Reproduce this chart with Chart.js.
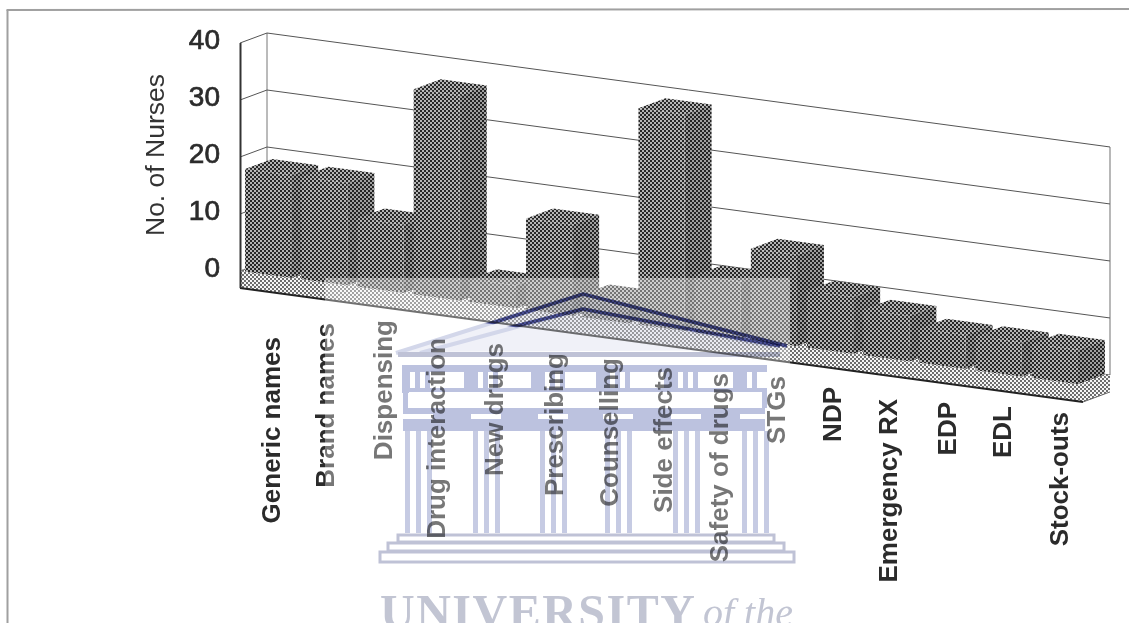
<!DOCTYPE html>
<html>
<head>
<meta charset="utf-8">
<title>No. of Nurses by training topic</title>
<style>html,body{margin:0;padding:0;background:#fff}canvas{display:block}</style>
<script src="https://cdn.jsdelivr.net/npm/chart.js@4"></script>
</head>
<body>
<canvas id="c" width="1129" height="623"></canvas>
<script>
// Chart content
const categories = ["Generic names","Brand names","Dispensing","Drug interaction","New drugs","Prescribing","Counselling","Side effects","Safety of drugs","STGs","NDP","Emergency RX","EDP","EDL","Stock-outs"];
const nurses = [18,18,12,36,4,16,4,38,10,16,10,8,6,6,6];
const yTicks = [0,10,20,30,40];

// Category label placement: where each rotated label ends and its sideways nudge
const labelEnds = [337,323,320,338,343,353,358,367,373,376,387,399,402,406,412];
const labelNudge = [5,3,4,1,3,7,6,3,3,4,4,4,6,5,6];

// Oblique projection of the plot box
const SLOPE = 0.1352, ORIGIN_X = 240, DROP = 2;
const DEPTH_X = 27, DEPTH_Y = -10, SLAB = 17;
const sy = (x, y) => y + SLOPE * (x - ORIGIN_X) + DROP;

function halftone(bg, dot, r) {
  const t = document.createElement('canvas');
  t.width = t.height = 4;
  const g = t.getContext('2d');
  g.fillStyle = bg; g.fillRect(0, 0, 4, 4);
  g.fillStyle = dot;
  for (const [x, y] of [[1, 1], [3, 3]]) {
    g.beginPath(); g.arc(x, y, r, 0, 7); g.fill();
  }
  return t;
}
const ctx0 = document.getElementById('c').getContext('2d');
const darkTile = halftone('#282828', '#f4f4f4', 0.92);
const lightTile = halftone('#f6f6f6', '#2e2e2e', 0.9);
const darkFill = ctx0.createPattern(darkTile, 'repeat');
const lightFill = ctx0.createPattern(lightTile, 'repeat');
const frontFill = ctx0.createPattern(darkTile, 'repeat');
// keep the dots upright while the bar fronts are sheared
frontFill.setTransform(new DOMMatrix([1, -SLOPE, 0, 1, 0, SLOPE * ORIGIN_X - DROP]));

function poly(ctx, pts, fill, stroke, lw) {
  ctx.beginPath();
  pts.forEach((p, i) => i ? ctx.lineTo(p[0], p[1]) : ctx.moveTo(p[0], p[1]));
  ctx.closePath();
  if (fill) { ctx.fillStyle = fill; ctx.fill(); }
  if (stroke) { ctx.strokeStyle = stroke; ctx.lineWidth = lw || 1; ctx.stroke(); }
}
function seg(ctx, x1, y1, x2, y2, color, lw) {
  ctx.beginPath(); ctx.moveTo(x1, y1); ctx.lineTo(x2, y2);
  ctx.strokeStyle = color; ctx.lineWidth = lw; ctx.stroke();
}

const boxPlugin = {
  id: 'obliqueBox',
  beforeDraw(chart) {
    const c = chart.ctx;
    seg(c, 7.5, 10, 7.5, 623, '#a0a0a0', 2);
    seg(c, 6.5, 10, 1129, 9, '#a0a0a0', 2);
  },
  beforeDatasetsDraw(chart) {
    const c = chart.ctx, { left, right } = chart.chartArea, y = chart.scales.y;
    const zero = y.getPixelForValue(0), top = y.getPixelForValue(40);
    // back wall, side wall
    seg(c, left + DEPTH_X, top + DROP + DEPTH_Y, left + DEPTH_X, zero + DROP + DEPTH_Y, '#777', 1);
    seg(c, right + DEPTH_X, sy(right, top) + DEPTH_Y, right + DEPTH_X, sy(right, zero) + DEPTH_Y, '#888', 1.2);
    yTicks.forEach(v => {
      const p = y.getPixelForValue(v);
      seg(c, left, sy(left, p), left + DEPTH_X, sy(left, p) + DEPTH_Y, '#555', 1);
      seg(c, left + DEPTH_X, sy(left, p) + DEPTH_Y, right + DEPTH_X, sy(right, p) + DEPTH_Y, '#555', 1);
    });
    // floor slab
    const a = [left, sy(left, zero)], b = [right, sy(right, zero)];
    poly(c, [a, [a[0] + DEPTH_X, a[1] + DEPTH_Y], [b[0] + DEPTH_X, b[1] + DEPTH_Y], b], lightFill);
    poly(c, [a, b, [b[0], b[1] + SLAB], [a[0], a[1] + SLAB]], lightFill);
    poly(c, [b, [b[0] + DEPTH_X, b[1] + DEPTH_Y], [b[0] + DEPTH_X, b[1] + DEPTH_Y + SLAB], [b[0], b[1] + SLAB]], lightFill);
    seg(c, a[0], a[1] + SLAB, b[0], b[1] + SLAB, '#222', 2);
    seg(c, b[0], b[1] + SLAB, b[0] + DEPTH_X, b[1] + DEPTH_Y + SLAB, '#666', 1);
    seg(c, left + 0.5, top + DROP, left + 0.5, a[1] + SLAB, '#333', 2);

    // top and side faces of each bar, left to right
    chart.getDatasetMeta(0).data.forEach(bar => {
      const hw = bar.width / 2, l = bar.x - hw, r = bar.x + hw;
      const fl = [l, sy(l, bar.y)], fr = [r, sy(r, bar.y)];
      const br = [r, sy(r, bar.base)];
      const side = [fr, [fr[0] + DEPTH_X, fr[1] + DEPTH_Y], [br[0] + DEPTH_X, br[1] + DEPTH_Y], br];
      poly(c, [fl, [fl[0] + DEPTH_X, fl[1] + DEPTH_Y], [fr[0] + DEPTH_X, fr[1] + DEPTH_Y], fr], darkFill);
      poly(c, side, darkFill);
      poly(c, side, 'rgba(0,0,0,0.12)');
    });

    // bar fronts are drawn by the library inside the shear
    c.save();
    c.transform(1, SLOPE, 0, 1, 0, DROP - SLOPE * ORIGIN_X);
  },
  afterDatasetsDraw(chart) {
    chart.ctx.restore();
  },
  afterDraw(chart) {
    const c = chart.ctx, x = chart.scales.x;
    // rotated category labels hang under the sloping floor
    c.save();
    c.font = 'bold 26px "Liberation Sans"';
    c.fillStyle = '#2b2b2b';
    c.textAlign = 'right';
    c.textBaseline = 'middle';
    categories.forEach((name, i) => {
      c.save();
      c.translate(x.getPixelForTick(i) + labelNudge[i], labelEnds[i]);
      c.rotate(-Math.PI / 2);
      c.fillText(name, 0, 0);
      c.restore();
    });
    c.restore();
    drawCrest(c);
  }
};

// Institutional crest printed across the page
function crestLayer() {
  const layer = document.createElement('canvas');
  layer.width = 1129; layer.height = 623;
  const c = layer.getContext('2d');
  const tint = '#bcc2df', column = '#c6cbe3', pale = '#d3d7ea', stone = '#bfc2d6', paper = '#fff';
  c.fillStyle = paper; c.fillRect(0, 0, 1129, 623);

  // pediment
  poly(c, [[398, 352], [583, 297], [787, 350]], '#f0f1f8');
  c.lineWidth = 4; c.strokeStyle = pale;
  c.beginPath(); c.moveTo(396, 353); c.lineTo(583, 294); c.lineTo(787, 346); c.stroke();
  c.beginPath(); c.moveTo(420, 353); c.lineTo(583, 309); c.lineTo(772, 346); c.stroke();

  // entablature
  c.fillStyle = stone;
  c.fillRect(398, 352, 382, 5);
  c.fillStyle = tint;
  c.fillRect(402, 365, 365, 28);
  const groups = [405, 473, 540, 605, 673, 742];
  c.fillStyle = paper;
  groups.forEach((g, i) => {
    c.fillRect(g + 5, 372, 5, 16);
    c.fillRect(g + 15, 372, 5, 16);
    const next = i < groups.length - 1 ? groups[i + 1] - 9 : 762;
    c.fillRect(g + 25, 372, next - g - 25, 16);
  });
  c.fillStyle = paper;
  c.fillRect(409, 392, 353, 16);
  c.fillStyle = tint;
  c.fillRect(403, 393, 5, 15);
  c.fillRect(762, 393, 5, 15);
  c.fillRect(403, 408, 362, 23);
  // capitals and columns
  for (const g of groups) {
    c.fillStyle = paper;
    c.fillRect(g - 2, 414, 30, 5);
    c.fillStyle = column;
    c.fillRect(g, 431, 27, 102);
    c.fillStyle = paper;
    c.fillRect(g + 5, 431, 6, 102);
    c.fillRect(g + 16, 431, 6, 102);
  }
  // steps
  c.strokeStyle = stone; c.lineWidth = 3;
  c.strokeRect(398, 535, 376, 7);
  c.strokeRect(388, 543, 396, 8);
  c.strokeRect(380, 552, 414, 10);

  // wordmark
  c.fillStyle = '#c2c5d3';
  c.textBaseline = 'alphabetic';
  c.textAlign = 'left';
  c.letterSpacing = '1.5px';
  c.font = 'bold 48px "Liberation Serif"';
  c.fillText('UNIVERSITY', 380, 628);
  c.letterSpacing = '0px';
  c.font = 'italic 40px "Liberation Serif"';
  c.fillText('of the', 703, 626);
  return layer;
}
function drawCrest(c) {
  c.save();
  c.fillStyle = 'rgba(255,255,255,0.36)';
  c.fillRect(325, 278, 465, 345);
  c.globalCompositeOperation = 'multiply';
  c.filter = 'blur(0.7px)';
  c.drawImage(crestLayer(), 0, 0);
  // the roof lines read much darker where they cross the plot
  c.beginPath(); c.moveTo(240, 290); c.lineTo(1083, 404); c.lineTo(1083, 0); c.lineTo(240, 0); c.closePath(); c.clip();
  c.strokeStyle = '#5a60a8'; c.lineWidth = 3.5;
  c.beginPath(); c.moveTo(470, 330); c.lineTo(583, 294); c.lineTo(787, 346); c.stroke();
  c.beginPath(); c.moveTo(500, 330); c.lineTo(583, 309); c.lineTo(780, 346); c.stroke();
  c.restore();
}

new Chart(ctx0, {
  type: 'bar',
  data: {
    labels: categories,
    datasets: [{
      label: 'No. of Nurses',
      data: nurses,
      backgroundColor: frontFill,
      borderWidth: 0,
      barPercentage: 0.82,
      categoryPercentage: 1
    }]
  },
  options: {
    responsive: false,
    animation: false,
    layout: { padding: { top: 41, right: 46, left: 0, bottom: 0 } },
    plugins: { legend: { display: false }, tooltip: { enabled: false } },
    scales: {
      x: {
        grid: { display: false },
        border: { display: false },
        ticks: { display: false },
        afterFit(s) { s.height = 623 - 269; }
      },
      y: {
        min: 0, max: 40,
        afterFit(s) { s.width = 240; },
        afterBuildTicks(s) { s.ticks = yTicks.map(v => ({ value: v })); },
        grid: { display: false },
        border: { display: false },
        ticks: {
          padding: 12,
          color: '#2b2b2b',
          textStrokeColor: '#2b2b2b',
          textStrokeWidth: 0.7,
          font: { family: '"Liberation Sans"', size: 28 }
        },
        title: {
          display: true,
          text: 'No. of Nurses',
          color: '#333',
          font: { family: '"Liberation Sans"', size: 26.5 },
          padding: { top: 141, bottom: 0 }
        }
      }
    }
  },
  plugins: [boxPlugin]
});
</script>
</body>
</html>
